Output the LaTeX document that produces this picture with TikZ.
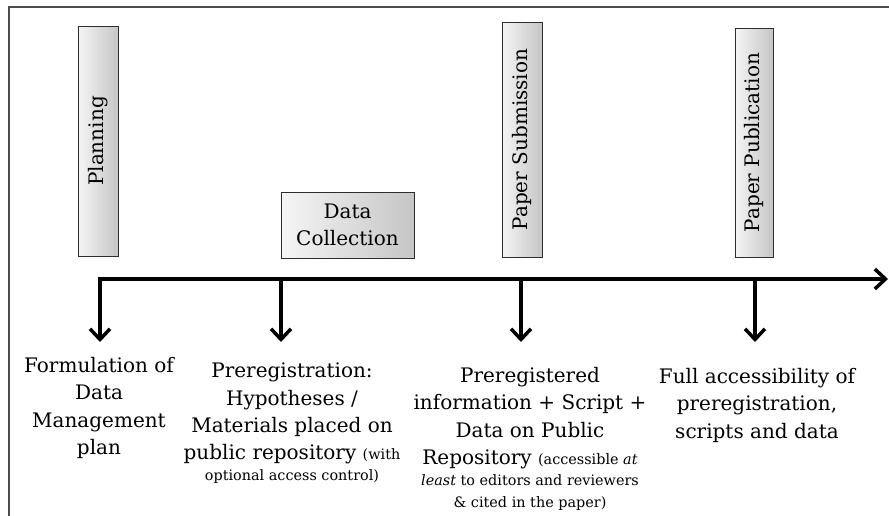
\documentclass[tikz,border=0pt]{standalone}
\usepackage{fontspec}
\setmainfont{DejaVu Serif}
\usepackage{tikz}
\usetikzlibrary{arrows.meta,shadows}
\newcommand{\noteText}[1]{{\fontsize{10.8}{13}\selectfont #1}}

\begin{document}
\begin{tikzpicture}[x=0.75pt,y=-0.75pt,
    bigfont/.style={font=\fontsize{15}{20.5}\selectfont},
    stage/.style={bigfont,draw=gray!35!black,line width=0.6pt,inner sep=0pt,
      left color=gray!8,right color=gray!45,
      drop shadow={shadow xshift=0.8pt,shadow yshift=-1pt,opacity=0.3}},
    vstage/.style={stage,rotate=90,minimum height=30pt},
    outcome/.style={bigfont,align=center,anchor=north,inner sep=0pt},
    flow/.style={line width=2.6pt,-{Straight Barb[length=8pt,width=15pt]}}]
    \useasboundingbox (0,0) rectangle (889,515);
    \draw[gray!60!black,line width=1.5pt] (9,530) -- (9,7) -- (900,7);

    \node[vstage,minimum width=172.5pt] (plan) at (98,141) {Planning};
    \node[stage,align=center,minimum width=99.75pt,minimum height=49.5pt] (collect) at (347.5,225) {Data\\Collection};
    \node[vstage,minimum width=176.25pt] (submit) at (522,139.5) {Paper Submission};
    \node[vstage,minimum width=171.75pt,minimum height=28.5pt] (publish) at (754,142.5) {Paper Publication};

    \coordinate (t0) at (100,279);
    \coordinate (t1) at (281,279);
    \coordinate (t2) at (521,279);
    \coordinate (t3) at (755,279);
    \coordinate (tend) at (888,279);
    \foreach \i in {0,...,3}
        \coordinate (d\i) at ([yshift=-47.25pt]t\i);
    \draw[flow] ([xshift=-1.3pt]t0) -- (tend);
    \foreach \i in {0,...,3}
        \draw[flow] (t\i) -- (d\i);

    \node[outcome] (formulate) at (99,357) {Formulation of\\Data\\Management\\plan};
    \node[outcome] (prereg) at (292,363) {Preregistration:\\Hypotheses /\\Materials placed on\\public repository \noteText{(with}\\[-4.75pt]\noteText{optional access control)}};
    \node[outcome] (repo) at (530,367) {Preregistered\\information + Script +\\Data on Public\\Repository \noteText{(accessible \textit{at}}\\[-4.75pt]\noteText{\textit{least} to editors and reviewers}\\[-4pt]\noteText{\& cited in the paper)}};
    \node[outcome] (access) at (757,368) {Full accessibility of\\preregistration,\\scripts and data};
\end{tikzpicture}
\end{document}
